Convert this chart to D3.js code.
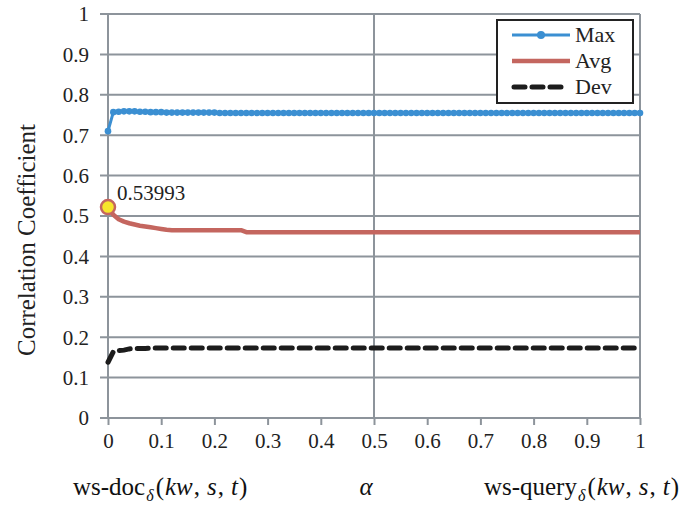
<!DOCTYPE html>
<html>
<head>
<meta charset="utf-8">
<script src="https://cdn.jsdelivr.net/npm/d3@7"></script>
<style>
  body { margin: 0; background: #fff; }
  svg text { font-family: "Liberation Serif", "Tinos", "DejaVu Serif", serif !important; }
</style>
</head>
<body>
<svg id="chart" width="696" height="508"></svg>
<script>
// alpha values, step 0.01
const alphas = d3.range(0, 101).map(i => i / 100);

// Max correlation
const maxValues = [
  0.710, 0.757, 0.758, 0.759, 0.759, 0.759, 0.758, 0.758, 0.757, 0.757,
  0.757, 0.756, 0.756, 0.756, 0.756, 0.756, 0.756, 0.756, 0.756, 0.756,
  0.756, 0.755, 0.755, 0.755, 0.755, 0.755, 0.755, 0.755, 0.755, 0.755,
  0.755, 0.755, 0.755, 0.755, 0.755, 0.755, 0.755, 0.755, 0.755, 0.755,
  0.755, 0.755, 0.755, 0.755, 0.755, 0.755, 0.755, 0.755, 0.755, 0.755,
  0.755, 0.755, 0.755, 0.755, 0.755, 0.755, 0.755, 0.755, 0.755, 0.755,
  0.755, 0.755, 0.755, 0.755, 0.755, 0.755, 0.755, 0.755, 0.755, 0.755,
  0.755, 0.755, 0.755, 0.755, 0.755, 0.755, 0.755, 0.755, 0.755, 0.755,
  0.755, 0.755, 0.755, 0.755, 0.755, 0.755, 0.755, 0.755, 0.755, 0.755,
  0.755, 0.755, 0.755, 0.755, 0.755, 0.755, 0.755, 0.755, 0.755, 0.755,
  0.755
];

// Avg correlation
const avgValues = [
  0.522, 0.503, 0.492, 0.486, 0.482, 0.479, 0.476, 0.474, 0.472, 0.470,
  0.468, 0.466, 0.465, 0.465, 0.465, 0.465, 0.465, 0.465, 0.465, 0.465,
  0.465, 0.465, 0.465, 0.465, 0.465, 0.465, 0.460, 0.460, 0.460, 0.460,
  0.460, 0.460, 0.460, 0.460, 0.460, 0.460, 0.460, 0.460, 0.460, 0.460,
  0.460, 0.460, 0.460, 0.460, 0.460, 0.460, 0.460, 0.460, 0.460, 0.460,
  0.460, 0.460, 0.460, 0.460, 0.460, 0.460, 0.460, 0.460, 0.460, 0.460,
  0.460, 0.460, 0.460, 0.460, 0.460, 0.460, 0.460, 0.460, 0.460, 0.460,
  0.460, 0.460, 0.460, 0.460, 0.460, 0.460, 0.460, 0.460, 0.460, 0.460,
  0.460, 0.460, 0.460, 0.460, 0.460, 0.460, 0.460, 0.460, 0.460, 0.460,
  0.460, 0.460, 0.460, 0.460, 0.460, 0.460, 0.460, 0.460, 0.460, 0.460,
  0.460
];

// Deviation
const devValues = [
  0.138, 0.164, 0.167, 0.168, 0.171, 0.172, 0.172, 0.172, 0.173, 0.173,
  0.173, 0.173, 0.173, 0.173, 0.173, 0.173, 0.173, 0.173, 0.173, 0.173,
  0.173, 0.173, 0.173, 0.173, 0.173, 0.173, 0.173, 0.173, 0.173, 0.173,
  0.173, 0.173, 0.173, 0.173, 0.173, 0.173, 0.173, 0.173, 0.173, 0.173,
  0.173, 0.173, 0.173, 0.173, 0.173, 0.173, 0.173, 0.173, 0.173, 0.173,
  0.173, 0.173, 0.173, 0.173, 0.173, 0.173, 0.173, 0.173, 0.173, 0.173,
  0.173, 0.173, 0.173, 0.173, 0.173, 0.173, 0.173, 0.173, 0.173, 0.173,
  0.173, 0.173, 0.173, 0.173, 0.173, 0.173, 0.173, 0.173, 0.173, 0.173,
  0.173, 0.173, 0.173, 0.173, 0.173, 0.173, 0.173, 0.173, 0.173, 0.173,
  0.173, 0.173, 0.173, 0.173, 0.173, 0.173, 0.173, 0.173, 0.173, 0.173,
  0.173
];

const xTicks = d3.range(0, 11).map(i => i / 10);
const yTicks = d3.range(0, 11).map(i => i / 10);
const xTickLabels = ["0", "0.1", "0.2", "0.3", "0.4", "0.5", "0.6", "0.7", "0.8", "0.9", "1"];
const yTickLabels = ["0", "0.1", "0.2", "0.3", "0.4", "0.5", "0.6", "0.7", "0.8", "0.9", "1"];
const annotationLabel = "0.53993";

const serif = "'Liberation Serif', Tinos, 'DejaVu Serif', serif";
const gridColor = "#8d949b";
const textColor = "#222";
const colors = { max: "#3b8fd2", avg: "#c4665f", dev: "#1c1c1c" };

const svg = d3.select("#chart").attr("font-family", serif);
const plotLeft = 108, plotRight = 640, plotTop = 14, plotBottom = 418;

const x = d3.scaleLinear().domain([0, 1]).range([plotLeft, plotRight]);
const y = d3.scaleLinear().domain([0, 1]).range([plotBottom, plotTop]);

// horizontal gridlines (with small tick stubs to the left)
svg.append("g").selectAll("line")
  .data(yTicks.filter(d => d > 0))
  .join("line")
  .attr("x1", plotLeft - 8).attr("x2", plotRight)
  .attr("y1", d => y(d)).attr("y2", d => y(d))
  .attr("stroke", gridColor).attr("stroke-width", 2);

// vertical lines: left axis, middle, right border
[0, 0.5, 1].forEach(v => {
  svg.append("line")
    .attr("x1", x(v)).attr("x2", x(v))
    .attr("y1", plotTop).attr("y2", plotBottom)
    .attr("stroke", gridColor).attr("stroke-width", 2);
});

// bottom axis
const xAxis = d3.axisBottom(x).tickValues(xTicks).tickSize(7)
  .tickFormat((d, i) => xTickLabels[i]);
const gx = svg.append("g").attr("transform", `translate(0,${plotBottom})`).call(xAxis)
  .attr("font-family", serif).attr("font-size", 21);
gx.select(".domain").attr("stroke", gridColor).attr("stroke-width", 2)
  .attr("d", `M${plotLeft - 8},0H${plotRight}`);
gx.selectAll(".tick line").attr("stroke", gridColor).attr("stroke-width", 2);
gx.selectAll(".tick text")
  .attr("y", 23).attr("dy", "0.33em")
  .attr("fill", textColor);

// left axis labels
const yAxis = d3.axisLeft(y).tickValues(yTicks).tickSize(0)
  .tickFormat((d, i) => yTickLabels[i]);
const gy = svg.append("g").attr("transform", `translate(${plotLeft},0)`).call(yAxis)
  .attr("font-family", serif).attr("font-size", 21);
gy.select(".domain").remove();
gy.selectAll(".tick text")
  .attr("x", -19).attr("dy", "0.33em")
  .attr("fill", textColor);

// y title
svg.append("text")
  .attr("transform", "translate(35,240) rotate(-90)")
  .attr("text-anchor", "middle")
  .attr("fill", textColor).attr("font-size", 25)
  .text("Correlation Coefficient");

// series
const line = d3.line().x((d, i) => x(alphas[i])).y(d => y(d));

svg.append("path").datum(devValues)
  .attr("d", line).attr("fill", "none")
  .attr("stroke", colors.dev).attr("stroke-width", 5)
  .attr("stroke-dasharray", "11,7").attr("stroke-linecap", "round");

svg.append("path").datum(avgValues)
  .attr("d", line).attr("fill", "none")
  .attr("stroke", colors.avg).attr("stroke-width", 4.5)
  .attr("stroke-linejoin", "round");

svg.append("path").datum(maxValues)
  .attr("d", line).attr("fill", "none")
  .attr("stroke", colors.max).attr("stroke-width", 3);

svg.append("g").selectAll("circle")
  .data(maxValues)
  .join("circle")
  .attr("cx", (d, i) => x(alphas[i])).attr("cy", d => y(d))
  .attr("r", 3.3).attr("fill", colors.max);

// highlighted avg start point
svg.append("circle")
  .attr("cx", x(alphas[0])).attr("cy", y(avgValues[0]))
  .attr("r", 7).attr("fill", "#f7e52b")
  .attr("stroke", colors.avg).attr("stroke-width", 2.5);
svg.append("text")
  .attr("x", x(alphas[0]) + 9).attr("y", y(avgValues[0]) - 7)
  .attr("fill", textColor).attr("font-size", 21)
  .text(annotationLabel);

// legend
const legend = svg.append("g").attr("transform", "translate(497,20)");
legend.append("rect")
  .attr("width", 136).attr("height", 83)
  .attr("fill", "#fff").attr("stroke", "#222").attr("stroke-width", 2);
const legendItems = [
  { name: "Max", key: "max" },
  { name: "Avg", key: "avg" },
  { name: "Dev", key: "dev" }
];
legendItems.forEach((item, i) => {
  const ly = 15 + i * 26;
  const l = legend.append("line")
    .attr("x1", 15).attr("x2", 73).attr("y1", ly).attr("y2", ly)
    .attr("stroke", colors[item.key]);
  if (item.key === "max") {
    l.attr("stroke-width", 3);
    legend.append("circle").attr("cx", 44).attr("cy", ly).attr("r", 4).attr("fill", colors.max);
  } else if (item.key === "avg") {
    l.attr("stroke-width", 4.5);
  } else {
    l.attr("stroke-width", 5).attr("stroke-dasharray", "11,7").attr("stroke-linecap", "round")
      .attr("x1", 17).attr("x2", 71);
  }
  legend.append("text")
    .attr("x", 78).attr("y", ly).attr("dy", "0.33em")
    .attr("fill", textColor).attr("font-size", 22)
    .text(item.name);
});

// bottom labels (math-style spacing)
const bottomText = (xPos, anchor, base) => {
  const t = svg.append("text").attr("x", xPos).attr("y", 495)
    .attr("text-anchor", anchor).attr("fill", "#111").attr("font-size", 25);
  t.append("tspan").text(base);
  t.append("tspan").attr("dx", 1).attr("dy", 6).attr("font-size", 16).attr("font-style", "italic").text("δ");
  t.append("tspan").attr("dx", 2).attr("dy", -6).text("(");
  t.append("tspan").attr("dx", 1).attr("font-style", "italic").text("kw");
  t.append("tspan").attr("dx", 1).text(",");
  t.append("tspan").attr("dx", 7).attr("font-style", "italic").text("s");
  t.append("tspan").attr("dx", 1).text(",");
  t.append("tspan").attr("dx", 7).attr("font-style", "italic").text("t");
  t.append("tspan").attr("dx", 1).text(")");
  return t;
};
bottomText(73, "start", "ws-doc");
bottomText(679, "end", "ws-query");
svg.append("text").attr("x", 366).attr("y", 495)
  .attr("text-anchor", "middle").attr("fill", "#111")
  .attr("font-size", 25).attr("font-style", "italic").text("α");
</script>
</body>
</html>
